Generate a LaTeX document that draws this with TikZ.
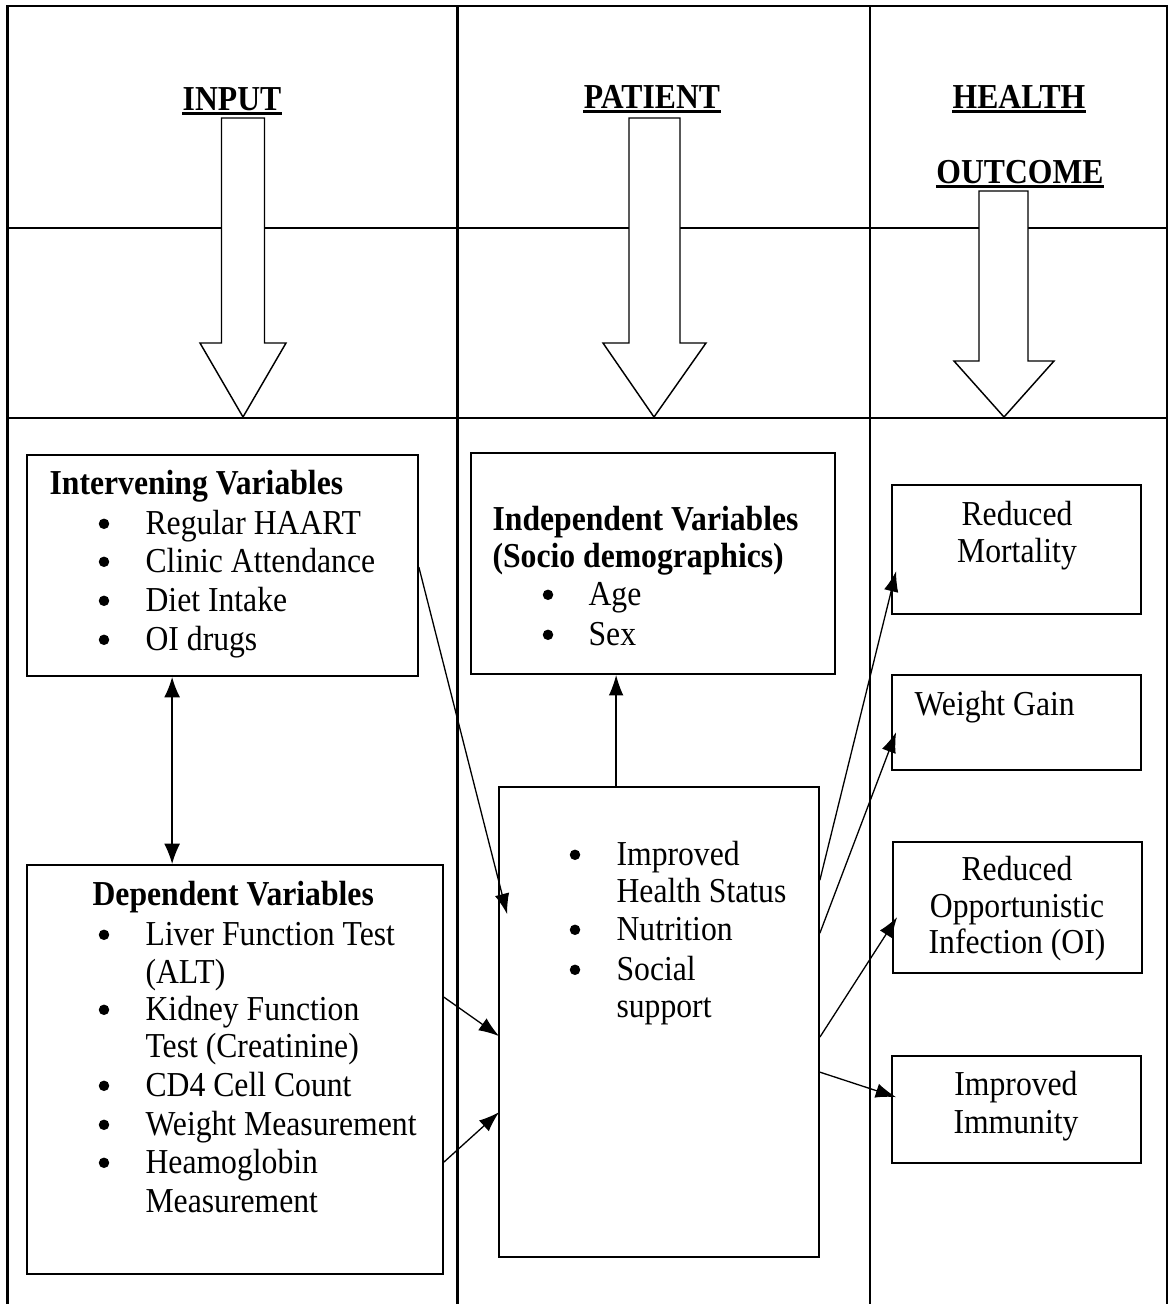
\documentclass[tikz,border=0pt]{standalone}
\usepackage{fontspec}
\setmainfont{Liberation Serif}[FakeStretch=0.905]
\usetikzlibrary{arrows.meta,calc,fit}
\tikzset{
  grid/.style={line width=0.7pt},
  box/.style={draw, line width=0.6pt, inner sep=0pt, rectangle},
  blockarrow/.style={draw, fill=white, line width=0.5pt, line join=miter},
  conn/.style={line width=0.45pt, -{Latex[length=7pt,width=5pt]}},
  dconn/.style={line width=0.6pt, {Latex[length=7pt,width=5.5pt]}-{Latex[length=7pt,width=5.5pt]}},
  txt/.style={inner sep=0pt, anchor=base west, font=\fontsize{12pt}{14pt}\selectfont},
  ctxt/.style={inner sep=0pt, anchor=base, font=\fontsize{12pt}{14pt}\selectfont},
  btxt/.style={inner sep=0pt, anchor=base west, font=\fontsize{12pt}{14pt}\selectfont\bfseries},
  head/.style={inner sep=0pt, anchor=base, font=\fontsize{12pt}{14pt}\selectfont\bfseries},
  bul/.style={circle, fill, inner sep=0pt, minimum size=3.6pt, yshift=3.5pt},
  uline/.style={line width=1.1pt}
}
\begin{document}
\begin{tikzpicture}[x=0.3429pt,y=-0.3429pt]
\useasboundingbox (0,0) rectangle (1169,1304);

% table grid
\draw[grid] (7.5,1304) -- (7.5,6) -- (1167,6) -- (1167,1304);
\draw[grid] (457.5,6) -- (457.5,1304);
\draw[grid] (870,6) -- (870,1304);
\draw[grid] (7.5,228) -- (1167,228);
\draw[grid] (7.5,418) -- (1167,418);

% headers
\node[head] (hin) at (232,110) {INPUT};
\node[head] (hpa) at (652,108) {PATIENT};
\node[head] (hhe) at (1019,108) {HEALTH};
\node[head] (hou) at (1020,183) {OUTCOME};
\foreach \n in {hin,hpa,hhe,hou}
  \draw[uline] ([yshift=-1.3pt]\n.base west) -- ([yshift=-1.3pt]\n.base east);

% block arrows
\draw[blockarrow] (221.5,118) -- (264.5,118) -- (264.5,343) -- (286,343) -- (243,417) -- (200,343) -- (221.5,343) -- cycle;
\draw[blockarrow] (629,118) -- (680,118) -- (680,343) -- (706,343) -- (654,417) -- (603,343) -- (629,343) -- cycle;
\draw[blockarrow] (979,191) -- (1028,191) -- (1028,361) -- (1054,361) -- (1004,417) -- (954,361) -- (979,361) -- cycle;

% boxes
\node[box, fit={(27,455)(418,676)}] (iv) {};
\node[box, fit={(27,865)(443,1274)}] (dv) {};
\node[box, fit={(471,453)(835,674)}] (ind) {};
\node[box, fit={(499,787)(819,1257)}] (pt) {};
\node[box, fit={(892,485)(1141,614)}] (rm) {};
\node[box, fit={(892,675)(1141,770)}] (wg) {};
\node[box, fit={(893,842)(1142,973)}] (roi) {};
\node[box, fit={(892,1056)(1141,1163)}] (ii) {};

% Intervening variables
\node[btxt] (ivt) at (49,494) {Intervening Variables};
\foreach \y/\t [count=\i] in {534/Regular HAART,572/Clinic Attendance,611/Diet Intake,650/OI drugs}{
  \node[bul] (ivb\i) at (104,\y) {};
  \node[txt] (ivi\i) at (145,\y) {\t};
}

% Independent variables
\node[btxt] (indt1) at (492,530) {Independent Variables};
\node[btxt] (indt2) at (492,567) {(Socio demographics)};
\foreach \y/\t [count=\i] in {605/Age,645/Sex}{
  \node[bul] (indb\i) at (548,\y) {};
  \node[txt] (indi\i) at (588,\y) {\t};
}

% Patient box
\node[bul] (ptb1) at (575,865) {};
\node[txt] (pti1) at (616,865) {Improved};
\node[txt] (pti1b) at (616,902) {Health Status};
\node[bul] (ptb2) at (575,940) {};
\node[txt] (pti2) at (616,940) {Nutrition};
\node[bul] (ptb3) at (575,980) {};
\node[txt] (pti3) at (616,980) {Social};
\node[txt] (pti3b) at (616,1017) {support};

% Dependent variables
\node[btxt] (dvt) at (92,905) {Dependent Variables};
\node[bul] (dvb1) at (104,945) {};
\node[txt] (dvi1) at (145,945) {Liver Function Test};
\node[txt] (dvi1b) at (145,983) {(ALT)};
\node[bul] (dvb2) at (104,1020) {};
\node[txt] (dvi2) at (145,1020) {Kidney Function};
\node[txt] (dvi2b) at (145,1057) {Test (Creatinine)};
\node[bul] (dvb3) at (104,1096) {};
\node[txt] (dvi3) at (145,1096) {CD4 Cell Count};
\node[bul] (dvb4) at (104,1135) {};
\node[txt] (dvi4) at (145,1135) {Weight Measurement};
\node[bul] (dvb5) at (104,1173) {};
\node[txt] (dvi5) at (145,1173) {Heamoglobin};
\node[txt] (dvi5b) at (145,1212) {Measurement};

% Outcomes
\node[ctxt] (rm1) at (1017,525) {Reduced};
\node[ctxt] (rm2) at (1017,562) {Mortality};
\node[txt] (wg1) at (914,715) {Weight Gain};
\node[ctxt] (roi1) at (1017,880) {Reduced};
\node[ctxt] (roi2) at (1017,917) {Opportunistic};
\node[ctxt] (roi3) at (1017,953) {Infection (OI)};
\node[ctxt] (ii1) at (1016,1095) {Improved};
\node[ctxt] (ii2) at (1016,1133) {Immunity};

% connectors
\draw[dconn] ($(iv.south west)+(146,0)$) -- ($(dv.north west)+(146,0)$);
\draw[conn] ($(iv.north east)+(0,113)$) -- ($(pt.north west)+(9,128)$);
\draw[conn] ($(dv.north east)+(0,133)$) -- ($(pt.north west)+(1,250)$);
\draw[conn] ($(dv.north east)+(0,298)$) -- ($(pt.north west)+(1,326)$);
\draw[conn] ($(pt.north west)+(118,0)$) -- ($(ind.south west)+(146,0)$);
\draw[conn] ($(pt.north east)+(0,94)$) -- ($(rm.north west)+(5,87)$);
\draw[conn] ($(pt.north east)+(0,147)$) -- ($(wg.north west)+(5,58)$);
\draw[conn] ($(pt.north east)+(0,251)$) -- ($(roi.north west)+(5,76)$);
\draw[conn] ($(pt.north east)+(0,286)$) -- ($(ii.north west)+(5,42)$);
\end{tikzpicture}
\end{document}
